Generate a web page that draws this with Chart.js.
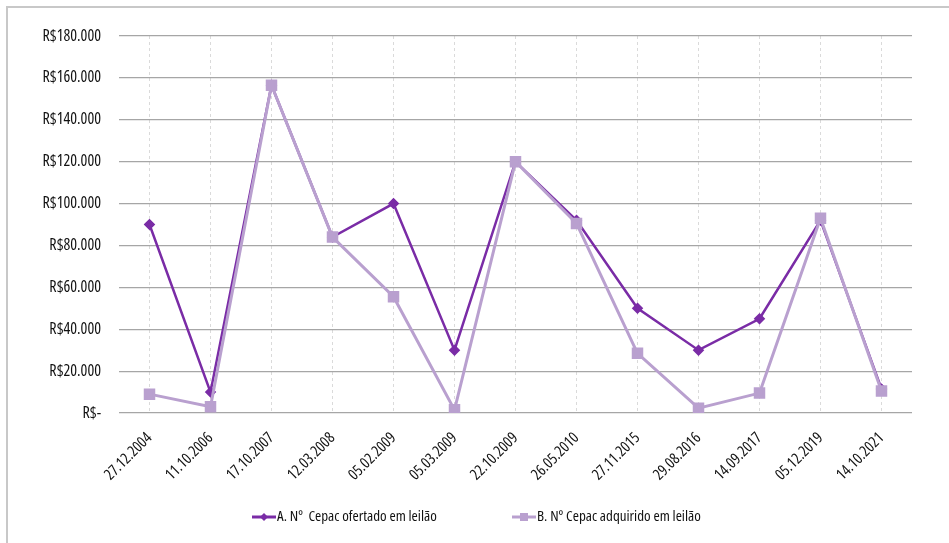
<!DOCTYPE html>
<html>
<head>
<meta charset="utf-8">
<script src="https://cdn.jsdelivr.net/npm/chart.js@4/dist/chart.umd.min.js"></script>
<style>
  html, body { margin: 0; padding: 0; background: #fff; }
  #wrap { position: relative; width: 949px; height: 543px; }
  #frame { position: absolute; left: 6px; top: 6px; right: 0; bottom: 0;
           border-top: 2px solid #c8c8c8; border-left: 2px solid #c8c8c8; }
  canvas { position: absolute; left: 0; top: 0; }
</style>
</head>
<body>
<div id="wrap">
  <div id="frame"></div>
  <canvas id="chart" width="949" height="543"></canvas>
</div>
<script>
const dates = ['27.12.2004', '11.10.2006', '17.10.2007', '12.03.2008', '05.02.2009', '05.03.2009',
  '22.10.2009', '26.05.2010', '27.11.2015', '29.08.2016', '14.09.2017', '05.12.2019', '14.10.2021'];
const ofertado = [90000, 10000, 156500, 84000, 100000, 30000, 120000, 92000, 50000, 30000, 45000, 92000, 11500];
const adquirido = [9000, 3000, 156500, 84000, 55500, 1500, 120000, 90500, 28500, 2300, 9500, 93000, 10500];
const yTicks = [0, 20000, 40000, 60000, 80000, 100000, 120000, 140000, 160000, 180000];

const colA = '#7a2ca6';
const colB = '#b9a0cf';
const family = '"Open Sans", sans-serif';

// legend drawn by hand: line + marker + text, like the spreadsheet legend
const legendItems = [
  { text: 'A. Nº  Cepac ofertado em leilão', color: colA, shape: 'diamond', x: 252 },
  { text: 'B. Nº Cepac adquirido em leilão', color: colB, shape: 'square', x: 512 }
];

const bottomLegend = {
  id: 'bottomLegend',
  afterDraw(chart) {
    const g = chart.ctx;
    const y = 517;
    g.save();
    for (const it of legendItems) {
      g.strokeStyle = it.color; g.fillStyle = it.color; g.lineWidth = 3;
      g.beginPath(); g.moveTo(it.x, y); g.lineTo(it.x + 24, y); g.stroke();
      if (it.shape === 'diamond') {
        g.beginPath(); g.moveTo(it.x + 12, y - 4); g.lineTo(it.x + 16, y); g.lineTo(it.x + 12, y + 4); g.lineTo(it.x + 8, y); g.closePath(); g.fill();
      } else {
        g.fillRect(it.x + 8, y - 4, 8, 8);
      }
      g.fillStyle = '#111';
      g.font = 'condensed 15px ' + family;
      g.textBaseline = 'middle';
      g.fillText(it.text, it.x + 25, y);
    }
    g.restore();
  }
};

function fmt(v) {
  if (v === 0) return 'R$-';
  return 'R$' + v.toLocaleString('de-DE');
}

new Chart(document.getElementById('chart'), {
  type: 'line',
  data: {
    labels: dates,
    datasets: [
      {
        label: 'A. Nº  Cepac ofertado em leilão',
        data: ofertado,
        borderColor: colA,
        backgroundColor: colA,
        borderWidth: 2.5,
        pointStyle: 'rectRot',
        pointRadius: 4,
        order: 2
      },
      {
        label: 'B. Nº Cepac adquirido em leilão',
        data: adquirido,
        borderColor: colB,
        backgroundColor: colB,
        borderWidth: 3,
        pointStyle: 'rect',
        pointRadius: 6,
        order: 1
      }
    ]
  },
  plugins: [bottomLegend],
  options: {
    responsive: false,
    animation: false,
    layout: { padding: { left: 0, right: 37, top: 36, bottom: 0 } },
    plugins: {
      tooltip: { enabled: false },
      legend: { display: false }
    },
    scales: {
      x: {
        offset: true,
        grid: { color: '#dadada', lineWidth: 1, drawTicks: false },
        border: { display: false, dash: [3, 3] },
        ticks: {
          minRotation: 45, maxRotation: 45, padding: 16,
          color: '#111', font: { family: family, size: 15.5, weight: 'condensed' }
        },
        afterFit(s) { s.height = 130; }
      },
      y: {
        min: 0, max: 180000,
        afterBuildTicks(s) { s.ticks = yTicks.map(v => ({ value: v })); },
        grid: { color: '#a6a6a6', lineWidth: 1.2, drawTicks: false },
        border: { display: false },
        ticks: {
          padding: 18,
          color: '#111', font: { family: family, size: 16, weight: 'condensed' },
          callback: v => fmt(v)
        },
        afterFit(s) { s.width = 119; }
      }
    }
  }
});
</script>
</body>
</html>
